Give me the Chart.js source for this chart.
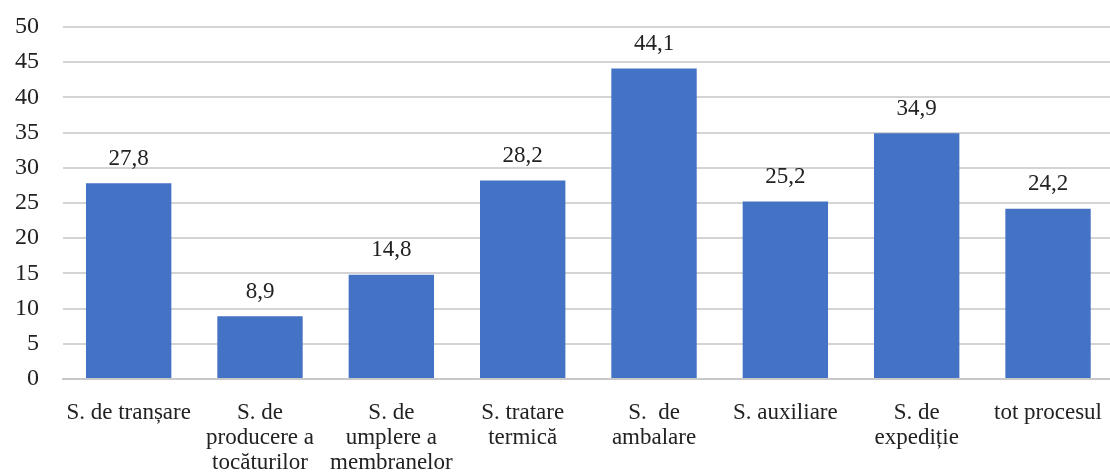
<!DOCTYPE html>
<html>
<head>
<meta charset="utf-8">
<script src="https://cdn.jsdelivr.net/npm/chart.js@4"></script>
<style>
    html, body { margin: 0; padding: 0; background: #fff; overflow: hidden; }
    #wrap { width: 1116px; height: 473px; }
</style>
</head>
<body>
<div id="wrap"><canvas id="timeChart"></canvas></div>
<script>
    // date
    var categories = [
        'S. de tranșare',
        ['S. de', 'producere a', 'tocăturilor'],
        ['S. de', 'umplere a', 'membranelor'],
        ['S. tratare', 'termică'],
        ['S.  de', 'ambalare'],
        'S. auxiliare',
        ['S. de', 'expediție'],
        'tot procesul'
    ];
    var values = [27.8, 8.9, 14.8, 28.2, 44.1, 25.2, 34.9, 24.2];
    var yTicks = [0, 5, 10, 15, 20, 25, 30, 35, 40, 45, 50];

    // etichete deasupra coloanelor
    var valueLabels = {
        id: 'valueLabels',
        afterDatasetsDraw: function (chart) {
            var ctx = chart.ctx;
            var meta = chart.getDatasetMeta(0);
            ctx.save();
            ctx.font = '23px "Liberation Serif"';
            ctx.fillStyle = '#222';
            ctx.textAlign = 'center';
            ctx.textBaseline = 'bottom';
            meta.data.forEach(function (bar, i) {
                ctx.fillText(String(values[i]).replace('.', ','), bar.x, bar.y - 13);
            });
            ctx.restore();
        }
    };

    var ctx = document.getElementById('timeChart').getContext('2d');
    var timeChart = new Chart(ctx, {
        type: 'bar',
        data: {
            labels: categories,
            datasets: [{
                data: values,
                backgroundColor: '#4472C4',
                categoryPercentage: 1.0,
                barPercentage: 0.65
            }]
        },
        options: {
            responsive: true,
            maintainAspectRatio: false,
            animation: false,
            layout: { padding: { top: 27, right: 0, left: 0, bottom: 0 } },
            plugins: {
                legend: { display: false },
                tooltip: { enabled: false }
            },
            scales: {
                x: {
                    grid: { display: false },
                    border: { color: '#c8c8c8', width: 2 },
                    afterFit: function (scale) { scale.height = 94; },
                    ticks: {
                        color: '#222',
                        font: { family: 'Liberation Serif', size: 23, lineHeight: 1.08 },
                        maxRotation: 0,
                        autoSkip: false,
                        padding: 14
                    }
                },
                y: {
                    min: 0,
                    max: 50,
                    afterBuildTicks: function (scale) {
                        scale.ticks = yTicks.map(function (v) { return { value: v }; });
                    },
                    afterFit: function (scale) {
                        scale.width = 63;
                        scale.paddingTop = 0;
                        scale.paddingBottom = 0;
                    },
                    grid: { color: '#d4d4d4', lineWidth: 2, drawTicks: false },
                    border: { display: false },
                    ticks: {
                        color: '#222',
                        font: { family: 'Liberation Serif', size: 24 },
                        padding: 24
                    }
                }
            }
        },
        plugins: [valueLabels]
    });
</script>
</body>
</html>
